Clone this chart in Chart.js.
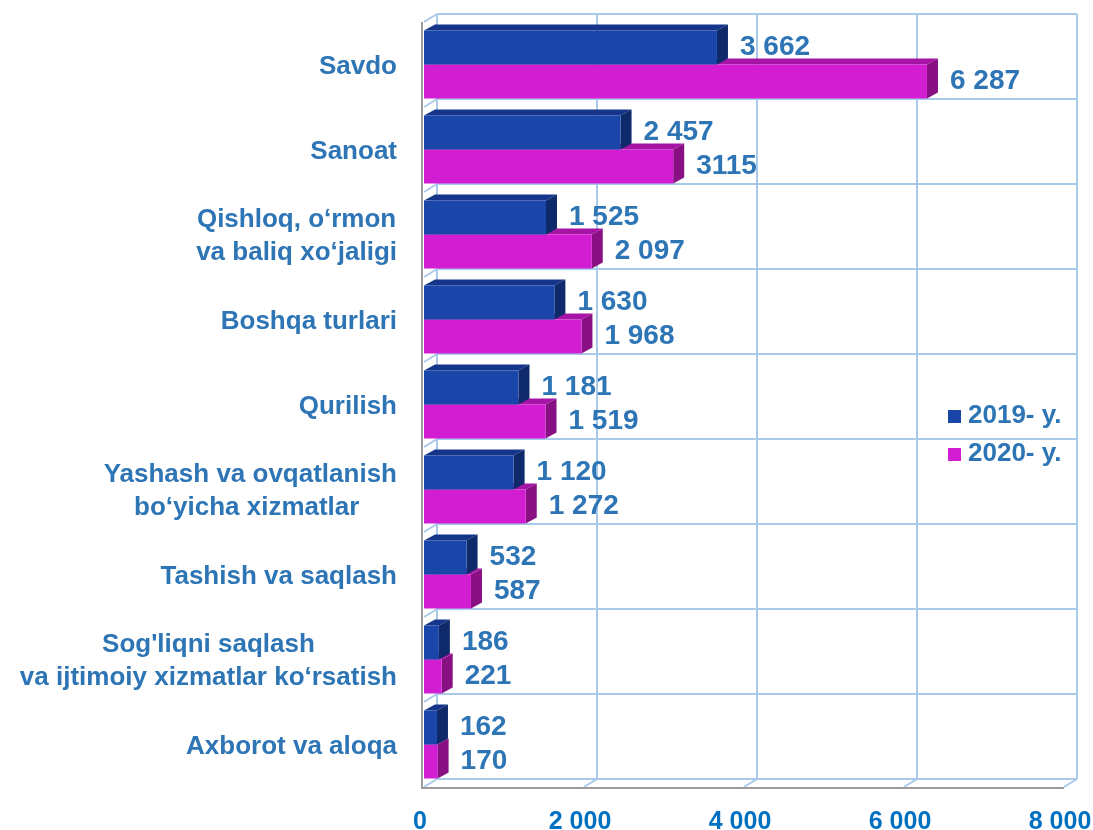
<!DOCTYPE html>
<html>
<head>
<meta charset="utf-8">
<title>Xizmatlar hajmi</title>
<script src="https://cdn.jsdelivr.net/npm/chart.js@4.4.1/dist/chart.umd.min.js"></script>
<style>
  html, body { margin: 0; padding: 0; background: #ffffff; }
  canvas { display: block; }
</style>
</head>
<body>
<canvas id="chart" width="1093" height="830"></canvas>
<script>
// categories, top to bottom
const categories = [
    'Savdo',
    'Sanoat',
    ['Qishloq, o‘rmon', 'va baliq xo‘jaligi'],
    'Boshqa turlari',
    'Qurilish',
    ['Yashash va ovqatlanish', 'bo‘yicha xizmatlar '],
    'Tashish va saqlash',
    ["Sog'liqni saqlash", 'va ijtimoiy xizmatlar ko‘rsatish'],
    'Axborot va aloqa'
];
const seriesNames = ['2019- y.', '2020- y.'];
const values2019 = [3662, 2457, 1525, 1630, 1181, 1120, 532, 186, 162];
const values2020 = [6287, 3115, 2097, 1968, 1519, 1272, 587, 221, 170];
const xTicks = [0, 2000, 4000, 6000, 8000];

// thousands with a space: 3662 -> "3 662"
function fmt(v) {
    return String(v).replace(/\B(?=(\d{3})+(?!\d))/g, ' ');
}
const text2019 = values2019.map(fmt);
const text2020 = values2020.map(fmt);
text2020[1] = String(values2020[1]); // Sanoat 2020 is written without the gap

const FONT = 'Arial, "Liberation Sans", sans-serif';
const labelBlue = '#2E75B6';
const gridBlue = '#A9C9EA';
const DX = 13, DY = -8;   // depth of the box walls
const BX = 11, BY = -6;   // depth of each bar

// draws the 3D box (back wall, floor, left wall), bar faces, values, category names and legend
const box3d = {
    id: 'box3d',
    beforeDatasetsDraw(chart) {
        const { ctx, chartArea: a, scales: { x, y } } = chart;
        const half = (y.getPixelForValue(1) - y.getPixelForValue(0)) / 2;
        ctx.save();
        ctx.lineWidth = 2;
        ctx.strokeStyle = gridBlue;
        ctx.beginPath();
        for (let i = 0; i <= categories.length; i++) {
            const yy = y.getPixelForValue(i) - half;
            ctx.moveTo(a.left + DX, yy + DY);
            ctx.lineTo(a.right + DX, yy + DY);
            ctx.moveTo(a.left, yy);
            ctx.lineTo(a.left + DX, yy + DY);
        }
        xTicks.forEach(v => {
            const xx = x.getPixelForValue(v);
            ctx.moveTo(xx + DX, a.top + DY);
            ctx.lineTo(xx + DX, a.bottom + DY);
            ctx.moveTo(xx, a.bottom);
            ctx.lineTo(xx + DX, a.bottom + DY);
        });
        ctx.stroke();

        // front edges of left wall and floor
        ctx.strokeStyle = '#9C9C9C';
        ctx.beginPath();
        ctx.moveTo(a.left - 2, a.top);
        ctx.lineTo(a.left - 2, a.bottom + 1);
        ctx.lineTo(a.right, a.bottom + 1);
        ctx.stroke();
        ctx.restore();
    },
    beforeDatasetDraw(chart, args) {
        const ds = chart.data.datasets[args.index];
        const { ctx } = chart;
        ctx.save();
        args.meta.data.forEach(bar => {
            const p = bar.getProps(['x', 'y', 'base', 'height'], true);
            const top = p.y - p.height / 2;
            const bottom = p.y + p.height / 2;
            ctx.fillStyle = ds.topColor;
            ctx.beginPath();
            ctx.moveTo(p.base, top);
            ctx.lineTo(p.base + BX, top + BY);
            ctx.lineTo(p.x + BX, top + BY);
            ctx.lineTo(p.x, top);
            ctx.closePath();
            ctx.fill();
            ctx.fillStyle = ds.sideColor;
            ctx.beginPath();
            ctx.moveTo(p.x, top);
            ctx.lineTo(p.x + BX, top + BY);
            ctx.lineTo(p.x + BX, bottom + BY);
            ctx.lineTo(p.x, bottom);
            ctx.closePath();
            ctx.fill();
        });
        ctx.restore();
    },
    afterDatasetsDraw(chart) {
        const { ctx } = chart;
        const texts = [text2019, text2020];
        ctx.save();
        ctx.font = 'bold 28px ' + FONT;
        ctx.fillStyle = labelBlue;
        ctx.textAlign = 'left';
        ctx.textBaseline = 'middle';
        chart.data.datasets.forEach((ds, di) => {
            chart.getDatasetMeta(di).data.forEach((bar, i) => {
                ctx.fillText(texts[di][i], bar.x + 23, bar.y);
            });
        });
        ctx.restore();
    },
    afterDraw(chart) {
        const { ctx, chartArea: a, scales: { y } } = chart;
        ctx.save();
        ctx.fillStyle = labelBlue;
        ctx.textBaseline = 'middle';
        ctx.textAlign = 'center';
        ctx.font = 'bold 26px ' + FONT;

        // category names: centred block, right edge near the axis
        const right = a.left - 27;
        categories.forEach((c, i) => {
            const lines = Array.isArray(c) ? c : [c];
            const w = Math.max(...lines.map(l => ctx.measureText(l).width));
            const cx = right - w / 2;
            const yc = y.getPixelForValue(i) + 2;
            lines.forEach((l, j) => {
                ctx.fillText(l, cx, yc + (j - (lines.length - 1) / 2) * 33);
            });
        });

        // legend
        ctx.textAlign = 'left';
        chart.data.datasets.forEach((ds, i) => {
            const ly = 416 + i * 38;
            ctx.fillStyle = ds.backgroundColor;
            ctx.fillRect(948, ly - 6, 13, 13);
            ctx.fillStyle = labelBlue;
            ctx.fillText(ds.label, 968, ly);
        });
        ctx.restore();
    }
};

const chart = new Chart(document.getElementById('chart'), {
    type: 'bar',
    data: {
        labels: categories,
        datasets: [
            {
                label: seriesNames[0],
                data: values2019,
                backgroundColor: '#1B46A9',
                topColor: '#14358A',
                sideColor: '#0F2A6B'
            },
            {
                label: seriesNames[1],
                data: values2020,
                backgroundColor: '#D31DD3',
                topColor: '#A614A6',
                sideColor: '#881083'
            }
        ]
    },
    options: {
        indexAxis: 'y',
        responsive: false,
        animation: false,
        devicePixelRatio: 1,
        layout: { padding: { top: 22, right: 29, left: 0, bottom: 0 } },
        datasets: {
            bar: { barPercentage: 1, categoryPercentage: 0.8, borderWidth: 0 }
        },
        scales: {
            y: {
                grid: { display: false },
                border: { display: false },
                ticks: { display: false },
                afterFit: s => { s.width = 424; }
            },
            x: {
                min: 0,
                max: 8000,
                grid: { display: false },
                border: { display: false },
                ticks: {
                    stepSize: 2000,
                    padding: 12,
                    labelOffset: -4,
                    color: '#0070C0',
                    font: { family: FONT, size: 25, weight: 'bold' },
                    callback: v => fmt(v)
                },
                afterFit: s => {
                    s.height = 43;
                    s.paddingLeft = 0;
                    s.paddingRight = 0;
                }
            }
        },
        plugins: {
            legend: { display: false },
            tooltip: { enabled: false }
        }
    },
    plugins: [box3d]
});
</script>
</body>
</html>
